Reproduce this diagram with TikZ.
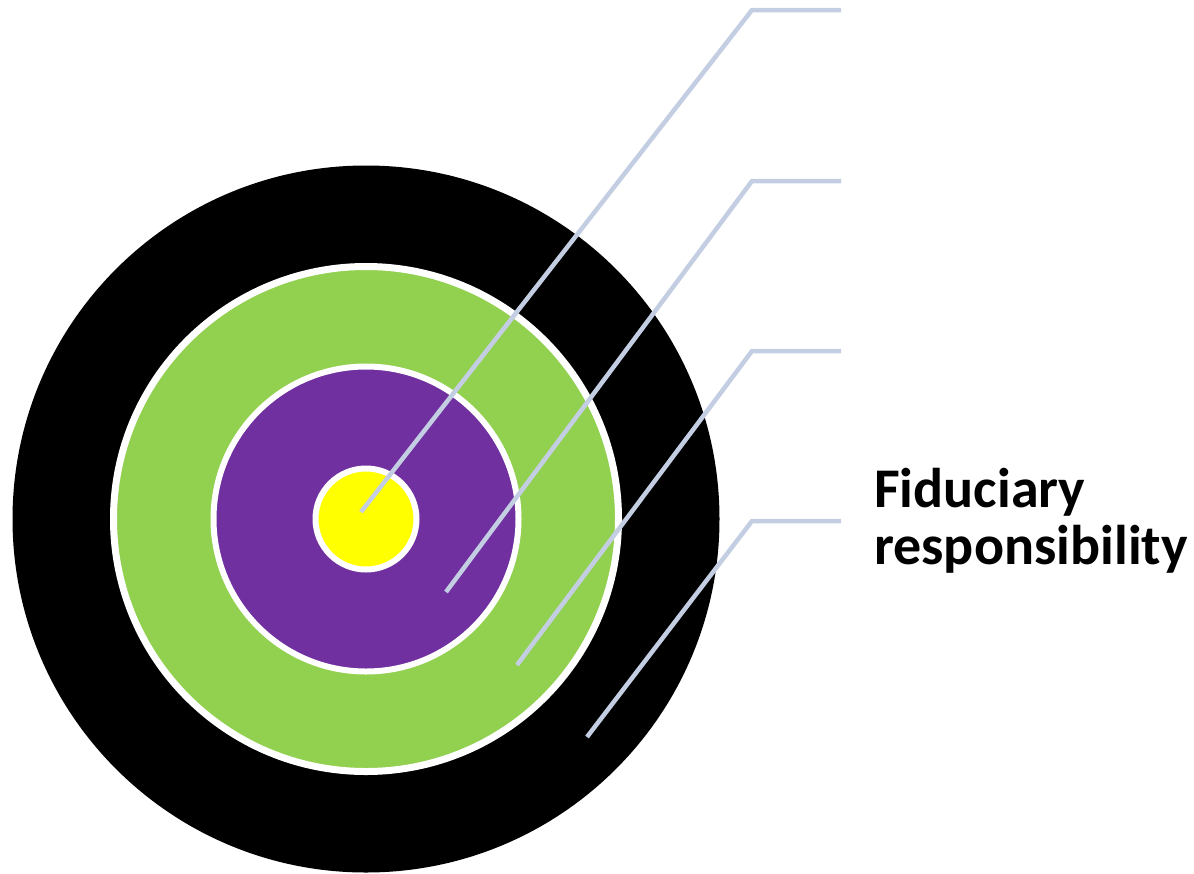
\documentclass[tikz,border=0pt]{standalone}
\usepackage{fontspec}
\setmainfont{Carlito}
\definecolor{ringgreen}{HTML}{92D050}
\definecolor{ringpurple}{HTML}{7030A0}
\definecolor{ringyellow}{HTML}{FFFF00}
\definecolor{leader}{HTML}{C4CEE2}
\tikzset{
  ring/.style={circle, inner sep=0pt, draw=white, line width=6pt},
  leaderline/.style={draw=leader, line width=4.5pt, line join=miter},
  label/.style={anchor=base west, inner sep=0pt, align=left,
    font={\fontsize{56pt}{57pt}\selectfont\bfseries}}
}
\begin{document}
\begin{tikzpicture}[x=1pt,y=-1pt]
\useasboundingbox (0,0) rectangle (1194,873);
\node[circle, inner sep=0pt, fill=black, minimum size=707pt] (outer) at (366,519) {};
\node[ring, fill=ringgreen, minimum size=505pt, line width=7pt] (green) at (366,519) {};
\node[ring, fill=ringpurple, minimum size=305pt] (purple) at (366,519) {};
\node[ring, fill=ringyellow, minimum size=101pt] (yellow) at (366,519) {};
\coordinate (p1) at (361,512);
\coordinate (c1) at (752,10);
\coordinate (e1) at (841,10);
\coordinate (p2) at (446,592);
\coordinate (c2) at (752,181);
\coordinate (e2) at (841,181);
\coordinate (p3) at (517,665);
\coordinate (c3) at (752,351);
\coordinate (e3) at (841,351);
\coordinate (p4) at (587,737);
\coordinate (c4) at (752,521);
\coordinate (e4) at (841,521);
\draw[leaderline] (p1) -- (c1) -- (e1);
\draw[leaderline] (p2) -- (c2) -- (e2);
\draw[leaderline] (p3) -- (c3) -- (e3);
\draw[leaderline] (p4) -- (c4) -- (e4);
\node[label] (fid) at (874,564) {Fiduciary\\responsibility};
\end{tikzpicture}
\end{document}
